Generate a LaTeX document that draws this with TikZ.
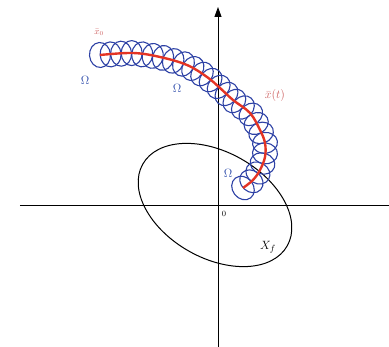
\documentclass[tikz,border=0pt]{standalone}
\usepackage{tikz}
\usetikzlibrary{arrows.meta}
\definecolor{trajblue}{RGB}{45,65,165}
\definecolor{trajred}{RGB}{228,52,36}
\definecolor{labelred}{RGB}{205,95,95}
\definecolor{labelblue}{RGB}{45,75,170}

\begin{document}
\begin{tikzpicture}[
        x=1pt, y=1pt,
        axis/.style={line width=0.9pt, black},
        tube/.style={trajblue, line width=1.1pt},
        omegalabel/.style={font=\fontsize{13}{15}\selectfont, text=labelblue, inner sep=0pt},
        redlabel/.style={text=labelred, inner sep=0pt}
    ]
        \useasboundingbox (-218,-142) rectangle (171,205);

        % Axes
        \coordinate (origin) at (0,0);
        \coordinate (xleft)  at (-198,0);
        \coordinate (xright) at (171,0);
        \coordinate (ybot)   at (0,-142);
        \coordinate (ytop)   at (0,198);
        \draw[axis] (xleft) -- (xright);
        \draw[axis, -{Triangle[length=10pt, width=7pt]}] (ybot) -- (ytop);
        \node[font=\footnotesize, inner sep=0pt] (zero) at (6,-9) {0};

        % Terminal set
        \draw[line width=1pt, black, rotate around={-29.5:(-3,0)}] (-3,0) ellipse (83 and 53);
        \node[font=\fontsize{13}{15}\selectfont, inner sep=0pt] (xf) at (50,-42) {$X_f$};

        % Tube of circles along the trajectory (centre x / centre y / tangent angle)
        \foreach \cx/\cy/\ca in {-118/150/4, -107.4/150.6/3, -96.9/151.3/2, -86.3/151.9/0,
                -75.8/150.6/-6, -65.3/149.1/-10, -55/147.1/-15, -44.8/144.1/-20, -34.5/141/-26,
                -25.2/136.5/-32, -16/131/-37, -7.4/124.9/-40, 0.7/118.1/-42, 8.5/111/-42,
                16.4/104/-40, 24.9/97.5/-42, 32.8/90.6/-52, 38.2/81.5/-62, 43.1/72.1/-70,
                47/62.1/-82, 47/51.6/-95, 44.5/41.5/-108, 39.9/32/-120, 33.4/23.7/-132, 25/17/-142}
            \draw[tube, rotate around={\ca:(\cx,\cy)}] (\cx,\cy) ellipse (10.5 and 12.5);

        % Nominal trajectory
        \draw[trajred, line width=2.4pt]
            plot[smooth, tension=0.6] coordinates {(-118,150) (-85,152) (-58,148) (-31,140) (-11,128) (2,117) (15,105) (32,92) (42,75) (47,62) (47,48) (42,35) (35,25) (25,17)};

        % Labels
        \node[redlabel, font=\small] (xzero) at (-119,173) {$\bar{x}_0$};
        \node[redlabel, font=\fontsize{13}{15}\selectfont] (xt) at (57,109) {$\bar{x}(t)$};
        \node[omegalabel] (omegaA) at (-133,125) {$\Omega$};
        \node[omegalabel] (omegaB) at (-41,117) {$\Omega$};
        \node[omegalabel] (omegaC) at (10,32) {$\Omega$};
    \end{tikzpicture}
\end{document}
